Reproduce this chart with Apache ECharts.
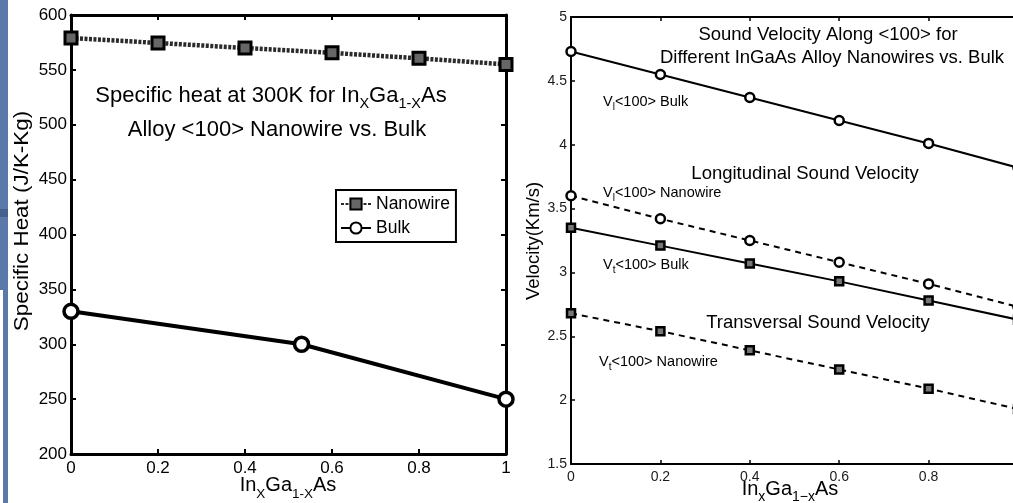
<!DOCTYPE html>
<html>
<head>
<meta charset="utf-8">
<script src="https://cdn.jsdelivr.net/npm/echarts@6/dist/echarts.min.js"></script>
<style>
html,body{margin:0;padding:0;background:#fff;}
#chart{width:1013px;height:503px;}
</style>
</head>
<body>
<div id="chart"></div>
<script>
// ---- data ----
const heatX = [0, 0.2, 0.4, 0.6, 0.8, 1];
const heatNanowire = [579, 574.5, 570, 565.5, 560.5, 555];
const heatBulkX = [0, 0.53, 1];
const heatBulk = [330, 300, 250];

const velX = [0, 0.2, 0.4, 0.6, 0.8, 1];
const vlBulk = [4.73, 4.55, 4.37, 4.19, 4.01, 3.82];
const vlNano = [3.60, 3.42, 3.25, 3.08, 2.91, 2.73];
const vtBulk = [3.35, 3.21, 3.07, 2.93, 2.78, 2.63];
const vtNano = [2.68, 2.54, 2.39, 2.24, 2.09, 1.93];

const heatTicks = {min: 200, max: 600, interval: 50};
const velTicks = {min: 1.5, max: 5, interval: 0.5};
const xTicks = {min: 0, max: 1, interval: 0.2};

const FONT = "'Liberation Sans', Arial, Helvetica, sans-serif";

function pairs(xs, ys) { return xs.map((x, i) => [x, ys[i]]); }

function rt(x, y, text, rich, align, extra) {
  const el = {
    type: 'text', x: x, y: y, z: 50,
    style: {
      text: text, rich: rich, fill: '#000', font: '16px ' + FONT,
      align: align || 'center', textAlign: align || 'center',
      verticalAlign: 'middle', textVerticalAlign: 'middle'
    }
  };
  return Object.assign(el, extra || {});
}
function richSet(main, sub, pad) {
  return {
    m: {fontSize: main, fontFamily: FONT, color: '#000'},
    s: {fontSize: sub, fontFamily: FONT, color: '#000', padding: [pad, 0, 0, 0]}
  };
}

const chart = echarts.init(document.getElementById('chart'), null, {renderer: 'canvas'});

function boxAxis(grid, pos, t, w, len) {
  return Object.assign({
    type: 'value', gridIndex: grid, position: pos,
    splitLine: {show: false},
    axisLine: {show: true, onZero: false, lineStyle: {color: '#000', width: w}},
    axisTick: {show: true, inside: true, length: len, lineStyle: {color: '#000', width: w > 2 ? 2 : 1.5}},
    axisLabel: {show: false}
  }, t);
}

const leftLabel = {show: true, fontSize: 17, color: '#000', fontFamily: FONT};
const rightLabel = {show: true, fontSize: 14, color: '#1a1a1a', fontFamily: FONT};

const option = {
  animation: false,
  backgroundColor: '#fff',
  grid: [
    {left: 71, top: 15, width: 435, height: 439, outerBoundsMode: 'none', containLabel: false},
    {left: 571, top: 17, width: 447, height: 447, outerBoundsMode: 'none', containLabel: false}
  ],
  xAxis: [
    Object.assign(boxAxis(0, 'bottom', xTicks, 3, 5), {axisLabel: Object.assign({margin: 6}, leftLabel)}),
    boxAxis(0, 'top', xTicks, 3, 5),
    Object.assign(boxAxis(1, 'bottom', xTicks, 2, 4), {axisLabel: Object.assign({margin: 6}, rightLabel)}),
    boxAxis(1, 'top', xTicks, 2, 4)
  ],
  yAxis: [
    Object.assign(boxAxis(0, 'left', heatTicks, 3, 5), {axisLabel: Object.assign({margin: 4}, leftLabel)}),
    boxAxis(0, 'right', heatTicks, 3, 5),
    Object.assign(boxAxis(1, 'left', velTicks, 2, 4), {axisLabel: Object.assign({margin: 4}, rightLabel)}),
    boxAxis(1, 'right', velTicks, 2, 4)
  ],
  legend: {
    data: ['Nanowire', 'Bulk'],
    orient: 'vertical', left: 336, top: 190,
    padding: [4, 6, 4, 4], itemGap: 4,
    itemWidth: 30, itemHeight: 14,
    borderColor: '#000', borderWidth: 2, backgroundColor: '#fff',
    textStyle: {fontSize: 17.5, color: '#000', fontFamily: FONT, lineHeight: 20}
  },
  series: [
    {
      name: 'Nanowire', type: 'line', xAxisIndex: 0, yAxisIndex: 0,
      data: pairs(heatX, heatNanowire),
      symbol: 'rect', symbolSize: 12,
      itemStyle: {color: '#666', borderColor: '#000', borderWidth: 3},
      lineStyle: {color: '#2a2a2a', width: 4.5, type: [3, 1.5]},
      z: 5
    },
    {
      name: 'Bulk', type: 'line', xAxisIndex: 0, yAxisIndex: 0,
      data: pairs(heatBulkX, heatBulk),
      symbol: 'circle', symbolSize: 14,
      itemStyle: {color: '#fff', borderColor: '#000', borderWidth: 3.5},
      lineStyle: {color: '#000', width: 4},
      z: 5
    },
    {
      name: 'Vl Bulk', type: 'line', xAxisIndex: 2, yAxisIndex: 2,
      data: pairs(velX, vlBulk),
      symbol: 'circle', symbolSize: 9,
      itemStyle: {color: '#fff', borderColor: '#000', borderWidth: 2.5},
      lineStyle: {color: '#000', width: 2}
    },
    {
      name: 'Vl Nanowire', type: 'line', xAxisIndex: 2, yAxisIndex: 2,
      data: pairs(velX, vlNano),
      symbol: 'circle', symbolSize: 9,
      itemStyle: {color: '#fff', borderColor: '#000', borderWidth: 2.5},
      lineStyle: {color: '#000', width: 2, type: [6, 5]}
    },
    {
      name: 'Vt Bulk', type: 'line', xAxisIndex: 2, yAxisIndex: 2,
      data: pairs(velX, vtBulk),
      symbol: 'rect', symbolSize: 8,
      itemStyle: {color: '#777', borderColor: '#000', borderWidth: 2.5},
      lineStyle: {color: '#000', width: 2}
    },
    {
      name: 'Vt Nanowire', type: 'line', xAxisIndex: 2, yAxisIndex: 2,
      data: pairs(velX, vtNano),
      symbol: 'rect', symbolSize: 8,
      itemStyle: {color: '#777', borderColor: '#000', borderWidth: 2.5},
      lineStyle: {color: '#000', width: 2, type: [6, 5]}
    }
  ],
  graphic: [
    // blue page edge
    {type: 'rect', shape: {x: 0, y: 0, width: 8, height: 290}, style: {fill: '#5b79a8'}, z: 1},
    {type: 'rect', shape: {x: 3, y: 290, width: 5, height: 213}, style: {fill: '#5b79a8'}, z: 1},
    {type: 'rect', shape: {x: 0, y: 209, width: 8, height: 8}, style: {fill: '#44618e'}, z: 1},
    // left title
    rt(271, 96, '{m|Specific heat at 300K for In}{s|X}{m|Ga}{s|1-X}{m|As}', richSet(22, 14.5, 16)),
    rt(277, 130, '{m|Alloy <100> Nanowire vs. Bulk}', richSet(22, 14, 16)),
    // left axis names
    rt(288, 485, '{m|In}{s|X}{m|Ga}{s|1-X}{m|As}', richSet(20, 13.5, 18)),
    rt(22, 221, '{m|Specific Heat (J/K-Kg)}', richSet(20, 14, 0), 'center', {rotation: Math.PI / 2, scaleX: 1.12}),
    // right titles
    rt(828, 35, '{m|Sound Velocity Along <100> for}', richSet(18.5, 12, 0)),
    rt(832, 58, '{m|Different InGaAs Alloy Nanowires vs. Bulk}', richSet(18.5, 12, 0)),
    rt(805, 174, '{m|Longitudinal Sound Velocity}', richSet(18.5, 12, 0)),
    rt(818, 323, '{m|Transversal Sound Velocity}', richSet(18.5, 12, 0)),
    rt(603, 102, '{m|V}{s|l}{m|<100> Bulk}', richSet(14.5, 10, 11), 'left'),
    rt(603, 193, '{m|V}{s|l}{m|<100> Nanowire}', richSet(14.5, 10, 11), 'left'),
    rt(603, 265, '{m|V}{s|t}{m|<100> Bulk}', richSet(14.5, 10, 11), 'left'),
    rt(599, 362, '{m|V}{s|t}{m|<100> Nanowire}', richSet(14.5, 10, 11), 'left'),
    // right axis names
    rt(790, 489, '{m|In}{s|x}{m|Ga}{s|1\u2212x}{m|As}', richSet(20, 14, 16)),
    rt(534, 241, '{m|Velocity(Km/s)}', richSet(18.5, 12, 0), 'center', {rotation: Math.PI / 2})
  ]
};
chart.setOption(option);
</script>
</body>
</html>
